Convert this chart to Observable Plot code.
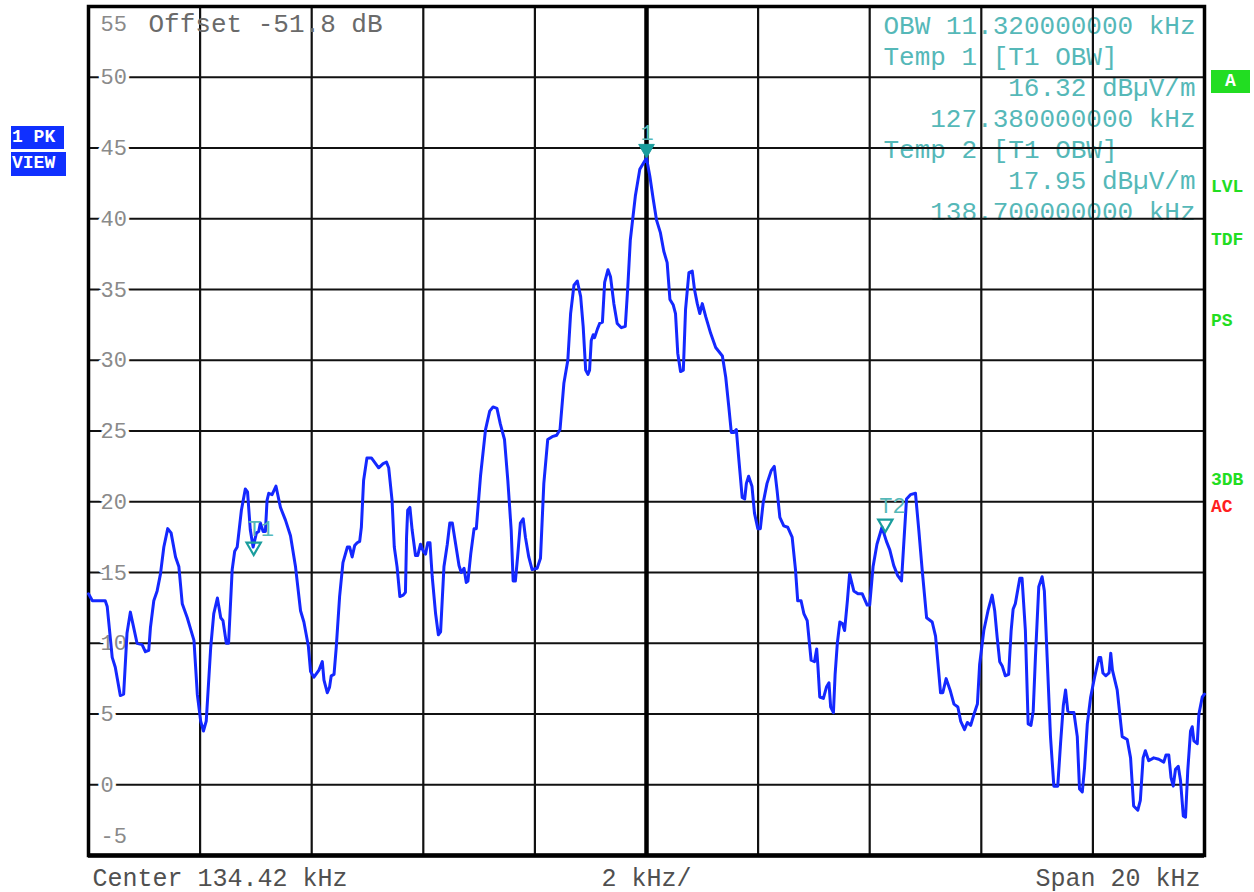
<!DOCTYPE html>
<html><head><meta charset="utf-8">
<script src="https://cdn.jsdelivr.net/npm/d3@7"></script>
<script src="https://cdn.jsdelivr.net/npm/@observablehq/plot@0.6"></script>
<style>
body{margin:0;background:#fff;}
#wrap{position:relative;width:1254px;height:892px;font-family:"Liberation Mono","DejaVu Sans Mono",monospace;}
.tag{position:absolute;font-family:"Liberation Mono","DejaVu Sans Mono",monospace;font-weight:bold;font-size:18px;line-height:1;}
.box{color:#fff;background:#1030ff;padding:2px 1px;box-sizing:border-box;}
.green{color:#22dd22;}
.red{color:#ff2020;}
</style></head><body><div id="wrap"></div>
<script>
// ---- data ----
const centerKHz = 134.42;
const spanKHz = 20;
const freqKHz = [
124.42,124.49,124.72,124.755,124.845,124.90,124.99,125.05,125.11,125.17,
125.23,125.29,125.38,125.44,125.50,125.53,125.59,125.65,125.71,125.77,
125.84,125.90,125.98,126.04,126.10,126.19,126.25,126.31,126.37,126.43,
126.48,126.53,126.61,126.665,126.73,126.79,126.83,126.89,126.93,126.995,
127.04,127.085,127.16,127.23,127.27,127.32,127.37,127.43,127.47,127.50,
127.55,127.59,127.62,127.65,127.71,127.78,127.86,127.95,128.04,128.13,
128.22,128.28,128.36,128.40,128.46,128.55,128.61,128.64,128.70,128.74,
128.77,128.82,128.86,128.92,128.98,129.06,129.10,129.145,129.19,129.235,
129.28,129.31,129.35,129.41,129.49,129.62,129.70,129.76,129.80,129.86,
129.90,129.95,130.00,130.06,130.10,130.12,130.14,130.18,130.22,130.28,
130.32,130.37,130.42,130.46,130.50,130.54,130.58,130.64,130.69,130.73,
130.79,130.85,130.895,130.94,131.00,131.06,131.10,131.15,131.19,131.22,
131.27,131.33,131.37,131.445,131.535,131.61,131.67,131.74,131.80,131.875,
131.935,131.995,132.03,132.07,132.11,132.16,132.21,132.25,132.31,132.37,
132.46,132.52,132.58,132.65,132.73,132.81,132.87,132.94,133.01,133.06,
133.12,133.18,133.24,133.285,133.33,133.37,133.40,133.43,133.465,133.49,
133.54,133.58,133.63,133.67,133.73,133.775,133.835,133.895,133.97,134.04,
134.085,134.13,134.22,134.30,134.42,134.48,134.54,134.60,134.67,134.73,
134.79,134.84,134.90,134.94,134.98,135.03,135.08,135.12,135.18,135.24,
135.28,135.33,135.375,135.42,135.48,135.57,135.66,135.78,135.84,135.895,
135.94,135.985,136.03,136.07,136.135,136.18,136.21,136.25,136.31,136.355,
136.415,136.46,136.51,136.58,136.655,136.71,136.76,136.81,136.88,136.95,
137.03,137.09,137.13,137.19,137.24,137.30,137.37,137.43,137.47,137.49,
137.525,137.59,137.645,137.69,137.72,137.77,137.80,137.84,137.885,137.93,
137.97,138.02,138.06,138.135,138.21,138.285,138.375,138.42,138.48,138.55,
138.64,138.72,138.78,138.85,138.92,138.99,139.03,139.08,139.15,139.24,
139.30,139.36,139.44,139.54,139.60,139.69,139.73,139.79,139.86,139.93,
140.00,140.05,140.12,140.17,140.23,140.29,140.35,140.39,140.465,140.54,
140.615,140.66,140.705,140.75,140.795,140.85,140.91,140.955,140.99,141.03,
141.11,141.15,141.21,141.26,141.31,141.35,141.39,141.45,141.51,141.55,
141.60,141.66,141.72,141.79,141.84,141.89,141.93,141.97,142.03,142.08,
142.14,142.18,142.23,142.27,142.32,142.38,142.45,142.53,142.56,142.60,
142.65,142.71,142.74,142.77,142.855,142.945,143.035,143.095,143.15,143.225,
143.27,143.32,143.36,143.42,143.51,143.60,143.69,143.73,143.78,143.82,
143.86,143.90,143.95,143.99,144.04,144.08,144.12,144.17,144.20,144.23,
144.29,144.32,144.38,144.42];
const levelDb = [
13.5,13.0,13.0,12.6,9.0,8.3,6.3,6.4,10.7,12.2,
11.1,10.0,9.9,9.4,9.5,11.1,13.0,13.7,14.9,16.8,
18.1,17.8,16.1,15.4,12.8,11.8,11.0,10.2,6.4,4.5,
3.8,4.5,9.7,12.1,13.2,11.8,11.6,10.0,10.0,15.2,
16.5,16.8,19.4,20.9,20.7,18.0,16.8,17.8,17.9,18.5,
17.9,17.9,20.1,20.6,20.5,21.1,19.6,18.7,17.6,15.4,
12.3,11.5,9.8,8.0,7.6,8.1,8.7,7.4,6.5,6.9,
7.7,7.8,9.7,13.3,15.7,16.8,16.8,16.1,16.9,17.1,
17.2,18.2,21.5,23.1,23.1,22.4,22.7,22.8,22.4,20.1,
16.8,15.4,13.3,13.4,13.6,17.5,19.4,19.6,18.0,16.2,
16.2,17.0,16.5,16.3,17.1,17.1,14.7,12.1,10.6,10.8,
15.4,17.0,18.5,18.5,17.0,15.5,15.0,15.3,14.3,14.4,
16.3,18.1,18.1,21.8,25.1,26.4,26.7,26.6,25.5,24.4,
21.5,18.0,14.4,14.4,16.1,18.5,18.8,17.5,16.1,15.2,
15.3,16.0,21.3,24.4,24.6,24.7,25.1,28.4,30.0,33.3,
35.3,35.6,34.5,32.4,29.3,29.0,29.3,31.4,31.8,31.6,
32.2,32.6,32.7,35.5,36.4,35.9,34.0,32.6,32.3,32.4,
35.2,38.5,41.6,43.5,44.3,43.0,41.4,39.9,39.0,37.7,
36.9,34.3,33.9,33.3,30.5,29.2,29.3,33.6,36.2,36.3,
35.0,34.0,33.3,34.0,33.1,31.9,30.9,30.3,28.8,26.7,
24.9,24.9,25.1,23.2,20.3,20.2,21.3,21.8,21.1,19.2,
18.1,18.1,19.9,21.3,22.2,22.5,20.8,18.9,18.3,18.2,
17.5,15.2,13.0,13.0,12.1,11.6,8.8,8.7,9.6,8.5,
6.2,6.1,6.9,7.2,5.5,5.1,7.8,10.0,11.5,11.4,
10.9,13.0,14.9,13.7,13.5,13.5,12.7,12.7,15.4,17.0,
18.2,17.2,16.6,15.5,14.8,14.4,17.0,20.2,20.5,20.6,
18.0,15.2,11.8,11.5,10.5,6.5,6.5,7.5,6.7,5.7,
5.5,4.5,3.9,4.4,4.2,5.0,5.7,8.5,10.9,12.3,
13.4,12.3,10.4,8.7,8.4,7.7,7.8,10.9,12.4,12.8,
14.6,14.6,10.9,4.3,4.2,5.2,9.0,14.0,14.7,13.7,
9.0,3.4,-0.1,-0.1,2.9,5.6,6.7,5.2,5.1,5.1,
3.4,-0.3,-0.5,1.2,4.3,6.2,7.6,9.0,9.0,7.9,
7.7,7.9,9.3,8.1,6.7,3.4,3.2,1.9,-1.5,-1.8,
-1.1,1.9,2.4,1.7,1.9,1.8,1.6,2.1,2.1,0.5,
-0.1,1.1,1.3,0.3,-2.2,-2.3,1.0,3.8,4.1,3.1,
2.9,5.0,6.2,6.4];
const xGridKHz = [124.42,126.42,128.42,130.42,132.42,134.42,136.42,138.42,140.42,142.42,144.42];
const yGridDb = [-5,0,5,10,15,20,25,30,35,40,45,50,55];
const yLabelDb = [0,5,10,15,20,25,30,35,40,45,50];
const markerNames = ["1","T1","T2"];
const markerKHz = [134.42,127.38,138.70];
const markerDb = [44.3,16.32,17.95];
const markerFilled = [true,false,false];
const readoutLeft = ["OBW 11.320000000 kHz","Temp 1 [T1 OBW]","","","Temp 2 [T1 OBW]","",""];
const readoutRight = ["","","16.32 dBµV/m","127.380000000 kHz","","17.95 dBµV/m","138.700000000 kHz"];
const bottomLabels = ["Center 134.42 kHz","2 kHz/","Span 20 kHz"];

// ---- build ----
const trace = freqKHz.map((f,i)=>({f, db: levelDb[i]}));
const markers = markerNames.map((n,i)=>({name:n, f:markerKHz[i], db:markerDb[i], filled:markerFilled[i]}));
const FONT = '"Liberation Mono","DejaVu Sans Mono",monospace';
const TEAL = "#1a9d9d", TEALTXT = "#55b8b8";

const readoutMarks = [];
readoutLeft.forEach((t,i)=>{ if(t) readoutMarks.push(Plot.text([t],{frameAnchor:"top-left",lineAnchor:"middle",dx:795,dy:19+i*31.1,textAnchor:"start",fontSize:26,fontFamily:FONT,fill:TEALTXT}));});
readoutRight.forEach((t,i)=>{ if(t) readoutMarks.push(Plot.text([t],{frameAnchor:"top-right",lineAnchor:"middle",dx:-9,dy:19+i*31.1,textAnchor:"end",fontSize:26,fontFamily:FONT,fill:TEALTXT}));});

const chart = Plot.plot({
  width:1254, height:892,
  marginLeft:88, marginRight:50, marginTop:6, marginBottom:37,
  x:{domain:[centerKHz-spanKHz/2, centerKHz+spanKHz/2], axis:null},
  y:{domain:[-5,55], axis:null},
  style:{background:"#fff", overflow:"visible"},
  marks:[
    ...readoutMarks,
    Plot.ruleY(yGridDb,{stroke:"#111",strokeWidth:2.2}),
    Plot.ruleX(xGridKHz,{stroke:"#111",strokeWidth:2.2}),
    Plot.ruleX([centerKHz],{stroke:"#000",strokeWidth:4.5}),
    Plot.frame({stroke:"#000",strokeWidth:3.5}),
    Plot.ruleY([-5],{stroke:"#000",strokeWidth:4.5}),
    Plot.text(yLabelDb,{y:d=>d,text:d=>String(d),frameAnchor:"left",dx:12,textAnchor:"start",fontSize:22,fontFamily:FONT,fill:"#8a8a8a",stroke:"#fff",strokeWidth:7}),
    Plot.text([55],{y:d=>d,text:d=>String(d),frameAnchor:"left",dx:12,dy:17,textAnchor:"start",fontSize:22,fontFamily:FONT,fill:"#8a8a8a"}),
    Plot.text([-5],{y:d=>d,text:d=>String(d),frameAnchor:"left",dx:12,dy:-20,textAnchor:"start",fontSize:22,fontFamily:FONT,fill:"#8a8a8a"}),
    Plot.text(["Offset -51.8 dB"],{frameAnchor:"top-left",lineAnchor:"middle",dx:60,dy:17,textAnchor:"start",fontSize:26,fontFamily:FONT,fill:"#6a6a6a"}),
    Plot.line(trace,{x:"f",y:"db",stroke:"#1428ff",strokeWidth:3,strokeLinejoin:"round",strokeLinecap:"round",curve:"linear"}),
    Plot.dot(markers.filter(d=>d.filled),{x:"f",y:"db",symbol:"triangle",rotate:180,r:5.8,dy:-9,fill:TEAL,stroke:TEAL,strokeWidth:1}),
    Plot.dot(markers.filter(d=>!d.filled),{x:"f",y:"db",symbol:"triangle",rotate:180,r:5.3,dy:-7,fill:"none",stroke:TEAL,strokeWidth:2.2}),
    Plot.text(markers,{x:"f",y:"db",text:"name",dx:-6,dy:-25,textAnchor:"start",fontSize:22,fontFamily:FONT,fill:TEALTXT}),
    Plot.text([bottomLabels[0]],{frameAnchor:"bottom-left",lineAnchor:"middle",dx:4,dy:22,textAnchor:"start",fontSize:25,fontFamily:FONT,fill:"#505050"}),
    Plot.text([bottomLabels[1]],{frameAnchor:"bottom",lineAnchor:"middle",dy:22,fontSize:25,fontFamily:FONT,fill:"#505050"}),
    Plot.text([bottomLabels[2]],{frameAnchor:"bottom-right",lineAnchor:"middle",dx:-4,dy:22,textAnchor:"end",fontSize:25,fontFamily:FONT,fill:"#505050"})
  ]
});
const wrap = document.getElementById("wrap");
wrap.appendChild(chart);

// side status tags
const tags = [
  {t:"1 PK", cls:"box", l:11, top:126, w:53, h:23},
  {t:"VIEW", cls:"box", l:11, top:152, w:55, h:24},
  {t:"A", cls:"box", l:1211, top:70, w:39, h:23, bg:"#22dd22", center:true},
  {t:"LVL", cls:"green", l:1211, top:178},
  {t:"TDF", cls:"green", l:1211, top:231},
  {t:"PS", cls:"green", l:1211, top:312},
  {t:"3DB", cls:"green", l:1211, top:471},
  {t:"AC", cls:"red", l:1211, top:498}
];
tags.forEach(d=>{
  const el = document.createElement("div");
  el.className = "tag " + d.cls;
  el.textContent = d.t;
  el.style.left = d.l+"px"; el.style.top = d.top+"px";
  if (d.w) { el.style.width = d.w+"px"; el.style.height = d.h+"px"; }
  if (d.bg) el.style.background = d.bg;
  if (d.center) el.style.textAlign = "center";
  wrap.appendChild(el);
});
</script></body></html>
